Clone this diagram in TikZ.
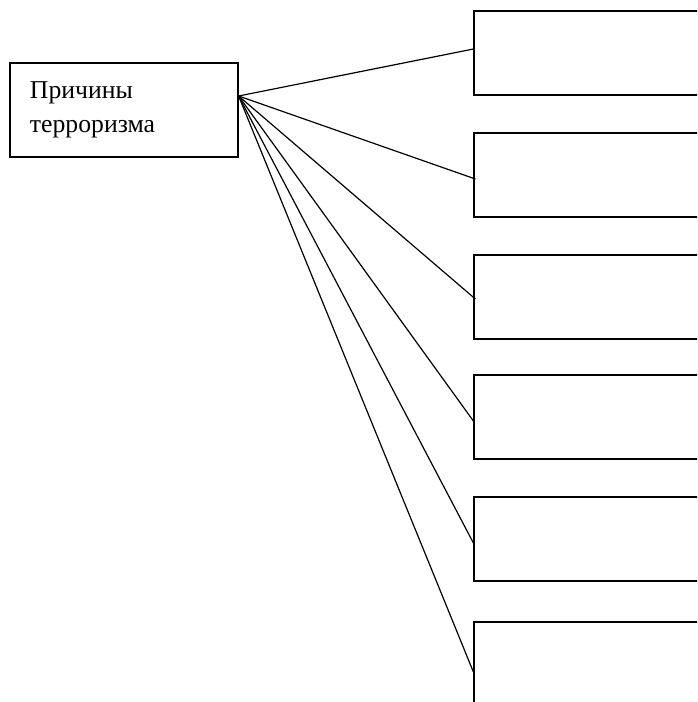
\documentclass[tikz,border=0pt]{standalone}
\usepackage{fontspec}
\setmainfont{Liberation Serif}
\usepackage{tikz}
\usetikzlibrary{positioning}

\begin{document}
\begin{tikzpicture}[x=1pt, y=-1pt, line width=1.2pt,
  causebox/.style={rectangle, draw, minimum width=228pt, minimum height=94pt, inner sep=0pt,
    align=left, text width=188pt, font=\fontsize{25.7}{34}\selectfont},
  emptybox/.style={rectangle, draw, minimum width=240pt, minimum height=84pt, inner sep=0pt}]
\useasboundingbox (0,0) rectangle (697,702);
\clip (0,0) rectangle (697,702);

% Left box
\node[causebox] (cause) at (124,110) {Причины\\терроризма};

% Right boxes
\node[emptybox] (r1) at (594,53) {};
\node[emptybox] (r2) at (594,175) {};
\node[emptybox] (r3) at (594,297) {};
\node[emptybox] (r4) at (594,417) {};
\node[emptybox] (r5) at (594,539) {};
\node[emptybox] (r6) at (594,664) {};

% Connections
\draw ([yshift=14pt]cause.east) -- ([yshift=4pt]r1.west);
\draw ([yshift=14pt]cause.east) -- ([yshift=-4pt,xshift=2pt]r2.west);
\draw ([yshift=14pt]cause.east) -- ([yshift=-2pt,xshift=2pt]r3.west);
\draw ([yshift=14pt]cause.east) -- ([yshift=-4pt]r4.west);
\draw ([yshift=14pt]cause.east) -- ([yshift=-4pt]r5.west);
\draw ([yshift=14pt]cause.east) -- ([yshift=-8pt]r6.west);
\end{tikzpicture}
\end{document}
